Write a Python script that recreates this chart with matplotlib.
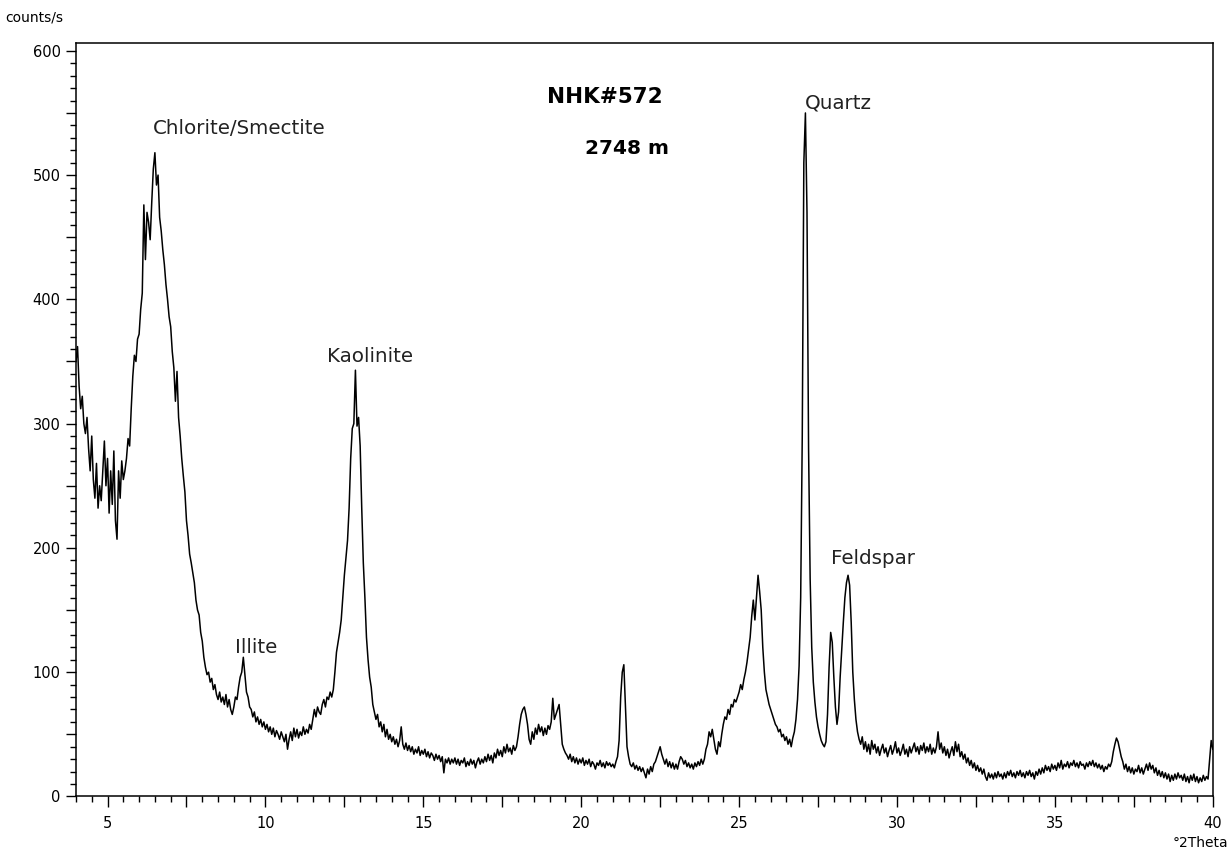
import numpy as np
import matplotlib
matplotlib.use("Agg")
import matplotlib.pyplot as plt
from matplotlib.ticker import MultipleLocator, FuncFormatter

# XRD pattern NHK#572, counts/s read every 0.05 deg 2Theta
start_2theta = 4.0
step_2theta = 0.05

seg_04_10 = [
    350, 362, 330, 312, 322, 300, 292, 305, 280, 262, 290, 255, 240, 268, 232, 250, 238, 262, 286, 250,
    272, 228, 262, 235, 278, 222, 207, 262, 240, 270, 255, 262, 272, 288, 282, 312, 338, 355, 350, 368,
    372, 392, 405, 476, 432, 470, 462, 448, 478, 505, 518, 492, 500, 466, 455, 440, 428, 412, 400, 386,
    378, 358, 345, 318, 342, 305, 290, 272, 258, 245, 222, 210, 195, 188, 180, 172, 158, 150, 146, 132,
    125, 112, 104, 98, 100, 92, 95, 86, 90, 82, 78, 84, 76, 80, 74, 82, 72, 78, 70, 66,
    72, 80, 78, 88, 96, 100, 112, 98, 84, 80, 72, 70, 64, 68, 60, 64, 58, 62, 56, 60,
]
seg_10_16 = [
    54, 58, 52, 56, 50, 55, 48, 53, 50, 46, 52, 48, 44, 50, 38, 46, 52, 45, 55, 48,
    54, 47, 52, 49, 56, 50, 54, 51, 58, 54, 62, 70, 64, 72, 68, 66, 74, 78, 72, 80,
    78, 84, 80, 86, 100, 116, 124, 132, 142, 160, 178, 192, 206, 232, 272, 296, 300, 343, 298, 305,
    282, 232, 188, 160, 128, 110, 96, 88, 74, 68, 62, 66, 56, 60, 52, 58, 48, 54, 46, 50,
    44, 48, 42, 46, 40, 45, 56, 42, 38, 43, 37, 41, 36, 40, 34, 38, 35, 40, 33, 37,
    34, 38, 32, 36, 31, 35, 33, 29, 34, 30, 33, 28, 32, 19, 30, 27, 31, 26, 30, 27,
]
seg_16_22 = [
    31, 26, 30, 25, 29, 27, 31, 24, 28, 25, 30, 26, 29, 23, 28, 31, 26, 30, 27, 32,
    28, 34, 29, 33, 27, 35, 31, 38, 33, 37, 32, 40, 35, 42, 36, 39, 34, 41, 37, 40,
    48, 58, 66, 70, 72, 66, 58, 46, 42, 52, 46, 55, 50, 58, 52, 56, 49, 55, 50, 57,
    54, 60, 79, 62, 66, 70, 74, 58, 42, 38, 35, 33, 30, 34, 28, 32, 27, 31, 26, 30,
    27, 31, 25, 29, 26, 30, 24, 28, 26, 22, 27, 25, 29, 24, 27, 23, 28, 25, 27, 24,
    26, 23, 28, 32, 45, 80, 100, 106, 72, 40, 32, 26, 24, 27, 22, 25, 21, 24, 20, 23,
]
seg_22_28 = [
    19, 15, 22, 18, 24, 20, 26, 28, 32, 36, 40, 34, 30, 26, 30, 24, 28, 23, 27, 22,
    26, 22, 28, 32, 30, 26, 29, 24, 27, 23, 26, 22, 27, 24, 28, 25, 30, 26, 30, 38,
    42, 52, 48, 54, 46, 38, 34, 44, 40, 50, 58, 64, 62, 70, 66, 74, 72, 78, 76, 80,
    84, 90, 86, 94, 100, 108, 118, 128, 145, 158, 142, 160, 178, 165, 150, 120, 100, 86, 80, 74,
    70, 66, 62, 58, 56, 52, 54, 48, 50, 45, 48, 42, 46, 40, 47, 52, 62, 78, 105, 160,
    290, 510, 550, 470, 280, 175, 120, 92, 76, 64, 56, 50, 45, 42, 40, 44, 66, 104, 132, 124,
]
seg_28_34 = [
    96, 72, 58, 68, 96, 118, 140, 160, 172, 178, 170, 140, 100, 78, 62, 52, 46, 42, 48, 38,
    44, 36, 42, 34, 45, 38, 42, 35, 40, 33, 38, 42, 35, 39, 32, 37, 41, 34, 38, 44,
    35, 39, 33, 37, 42, 34, 38, 32, 40, 35, 39, 43, 36, 40, 34, 41, 37, 43, 35, 40,
    36, 42, 34, 39, 35, 40, 52, 38, 43, 35, 40, 33, 38, 31, 36, 40, 33, 44, 36, 42,
    32, 36, 30, 34, 27, 31, 25, 29, 23, 27, 21, 25, 20, 23, 18, 22, 16, 13, 19, 15,
    18, 14, 19, 15, 20, 16, 18, 14, 19, 15, 20, 17, 21, 16, 19, 15, 20, 17, 21, 16,
]
seg_34_40 = [
    19, 15, 20, 17, 21, 16, 19, 14, 20, 17, 22, 18, 23, 19, 25, 21, 24, 20, 26, 22,
    25, 21, 27, 23, 29, 22, 26, 24, 28, 23, 27, 25, 29, 24, 27, 23, 28, 25, 26, 22,
    27, 24, 28, 25, 29, 24, 27, 23, 26, 22, 25, 20, 24, 22, 26, 24, 28, 36, 42, 47,
    44, 38, 32, 28, 22, 26, 20, 24, 19, 23, 18, 22, 20, 25, 19, 23, 18, 22, 26, 21,
    27, 22, 25, 19, 23, 17, 21, 16, 20, 15, 19, 14, 18, 12, 17, 13, 18, 14, 19, 15,
    17, 13, 18, 12, 16, 11, 17, 13, 18, 12, 16, 11, 15, 12, 17, 13, 16, 14, 30, 45,
    38,
]

# peak labels: text, 2theta, counts (left/bottom of the text)
labels = ["Chlorite/Smectite", "Illite", "Kaolinite", "Quartz", "Feldspar"]
label_x = [6.45, 9.05, 11.95, 27.08, 27.9]
label_y = [530, 112, 346, 550, 184]

counts = np.array(seg_04_10 + seg_10_16 + seg_16_22 + seg_22_28 + seg_28_34 + seg_34_40)
two_theta = start_2theta + step_2theta * np.arange(len(counts))

fig = plt.figure(figsize=(12.29, 8.5), dpi=100)
ax = fig.add_axes([0.0618, 0.063, 0.925, 0.886])

ax.plot(two_theta, counts, color="black", lw=1.1)

ax.set_xlim(4, 40)
ax.set_ylim(0, 606)

ax.xaxis.set_major_locator(MultipleLocator(2.5))
ax.xaxis.set_minor_locator(MultipleLocator(0.5))
ax.xaxis.set_major_formatter(FuncFormatter(lambda v, p: f"{v:.0f}" if abs(v % 5) < 1e-6 else ""))
ax.yaxis.set_major_locator(MultipleLocator(50))
ax.yaxis.set_minor_locator(MultipleLocator(10))
ax.yaxis.set_major_formatter(FuncFormatter(lambda v, p: f"{v:.0f}" if abs(v % 100) < 1e-6 else ""))

ax.tick_params(which="major", direction="out", length=7, width=1, labelsize=10.5, pad=4,
               colors="black")
ax.tick_params(which="minor", direction="out", length=4, width=1)
ax.tick_params(axis="x", which="major", length=8, pad=6)
for s in ax.spines.values():
    s.set_linewidth(1.1)

for t, x, y in zip(labels, label_x, label_y):
    ax.text(x, y, t, fontsize=14.3, color="#222222", ha="left", va="bottom")

ax.text(20.75, 563, "NHK#572", fontsize=15.5, fontweight="bold", ha="center", va="center")
ax.text(21.45, 521, "2748 m", fontsize=14.5, fontweight="bold", ha="center", va="center")

fig.text(0.004, 0.979, "counts/s", fontsize=10, ha="left", va="center")
fig.text(0.999, 0.008, "°2Theta", fontsize=10, ha="right", va="center")

fig.savefig("out.png", dpi=100)
